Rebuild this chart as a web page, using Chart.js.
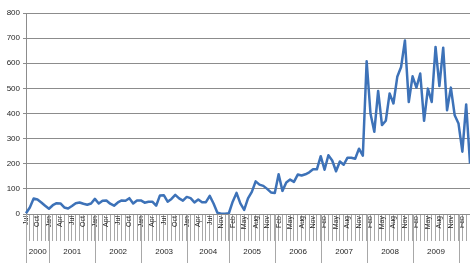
<!DOCTYPE html>
<html>
<head>
<meta charset="utf-8">
<script src="https://cdn.jsdelivr.net/npm/chart.js@4"></script>
<style>
  html, body { margin: 0; padding: 0; background: #fff; }
  #wrap { width: 470px; height: 263px; }
</style>
</head>
<body>
<div id="wrap"><canvas id="chart" width="470" height="263"></canvas></div>
<script>
const firstYear = 2000

// one entry per month shown (Sep 2004 is missing in the source)
const months = [
  'Jul','Aug','Sep','Oct','Nov','Dec',
  'Jan','Feb','Mar','Apr','May','Jun','Jul','Aug','Sep','Oct','Nov','Dec',
  'Jan','Feb','Mar','Apr','May','Jun','Jul','Aug','Sep','Oct','Nov','Dec',
  'Jan','Feb','Mar','Apr','May','Jun','Jul','Aug','Sep','Oct','Nov','Dec',
  'Jan','Feb','Mar','Apr','May','Jun','Jul','Aug','Oct','Nov','Dec',
  'Jan','Feb','Mar','Apr','May','Jun','Jul','Aug','Sep','Oct','Nov','Dec',
  'Jan','Feb','Mar','Apr','May','Jun','Jul','Aug','Sep','Oct','Nov','Dec',
  'Jan','Feb','Mar','Apr','May','Jun','Jul','Aug','Sep','Oct','Nov','Dec',
  'Jan','Feb','Mar','Apr','May','Jun','Jul','Aug','Sep','Oct','Nov','Dec',
  'Jan','Feb','Mar','Apr','May','Jun','Jul','Aug','Sep','Oct','Nov','Dec',
  'Jan','Feb','Mar','Apr'
]

const values = [
  3, 26, 62, 58, 46, 33,
  21, 35, 43, 42, 26, 22, 32, 43, 46, 41, 37, 42,
  60, 42, 53, 54, 41, 33, 46, 54, 53, 63, 42, 54,
  54, 45, 49, 49, 33, 74, 75, 49, 60, 76, 62, 53,
  68, 63, 46, 58, 47, 47, 72, 42, 5, 1, 1,
  3, 49, 84, 42, 16, 62, 88, 130, 117, 112, 100, 86,
  84, 158, 92, 125, 137, 128, 157, 153, 158, 166, 178, 178,
  230, 176, 234, 213, 170, 209, 196, 224, 224, 220, 260, 232,
  608, 400, 327, 490, 354, 371, 480, 440, 546, 585, 691, 446,
  548, 503, 559, 371, 499, 446, 665, 509, 662, 413, 503, 393,
  360, 248, 436, 201
]

const yTicks = [0, 100, 200, 300, 400, 500, 600, 700, 800]

const lineColor = '#3d72b8'
const gridColor = '#8c8c8c'
const tickColor = '#a8a8a8'
const textColor = '#262626'

// second row of the category axis: years
const yearRow = {
  id: 'yearRow',
  afterDraw(chart) {
    const ctx = chart.ctx
    const x = chart.scales.x
    const area = chart.chartArea
    const bottom = chart.height
    let starts = [0]
    for (let i = 1; i < months.length; i++) {
      if (months[i] === 'Jan') starts.push(i)
    }
    ctx.save()
    ctx.strokeStyle = tickColor
    ctx.lineWidth = 1
    ctx.fillStyle = textColor
    ctx.font = '8px "Liberation Sans", Arial, sans-serif'
    ctx.textAlign = 'center'
    ctx.textBaseline = 'middle'
    starts.forEach((s, k) => {
      const px = Math.round(x.getPixelForValue(s)) + 0.5
      ctx.beginPath()
      ctx.moveTo(px, area.bottom)
      ctx.lineTo(px, bottom)
      ctx.stroke()
      const end = k + 1 < starts.length ? x.getPixelForValue(starts[k + 1]) : area.right
      const label = String(firstYear + k)
      if (end - px > ctx.measureText(label).width + 4) {
        ctx.fillText(label, (px + end) / 2, 252)
      }
    })
    ctx.restore()
  }
}

new Chart(document.getElementById('chart'), {
  type: 'line',
  data: {
    labels: months,
    datasets: [{
      data: values,
      borderColor: lineColor,
      borderWidth: 2.5,
      borderJoinStyle: 'round',
      pointRadius: 0,
      tension: 0,
      fill: false
    }]
  },
  options: {
    responsive: false,
    animation: false,
    layout: { padding: { top: 13, right: 0, left: 0, bottom: 0 } },
    plugins: {
      legend: { display: false },
      tooltip: { enabled: false }
    },
    scales: {
      x: {
        offset: false,
        afterFit(scale) { scale.height = 49 },
        border: { display: true, color: gridColor },
        grid: {
          display: true,
          drawOnChartArea: false,
          drawTicks: true,
          tickLength: 27,
          color: tickColor
        },
        ticks: {
          autoSkip: false,
          minRotation: 90,
          maxRotation: 90,
          padding: -25,
          color: textColor,
          font: { family: '"Liberation Sans", Arial, sans-serif', size: 7 },
          callback: (v, i) => i % 3 === 0 ? months[i] : ''
        }
      },
      y: {
        min: 0,
        max: 800,
        afterFit(scale) { scale.width = 26 },
        afterBuildTicks(scale) { scale.ticks = yTicks.map(v => ({ value: v })) },
        border: { display: true, color: gridColor },
        grid: {
          color: gridColor,
          lineWidth: 1,
          tickLength: 3
        },
        ticks: {
          padding: 3,
          color: textColor,
          font: { family: '"Liberation Sans", Arial, sans-serif', size: 8 }
        }
      }
    }
  },
  plugins: [yearRow]
});
</script>
</body>
</html>
